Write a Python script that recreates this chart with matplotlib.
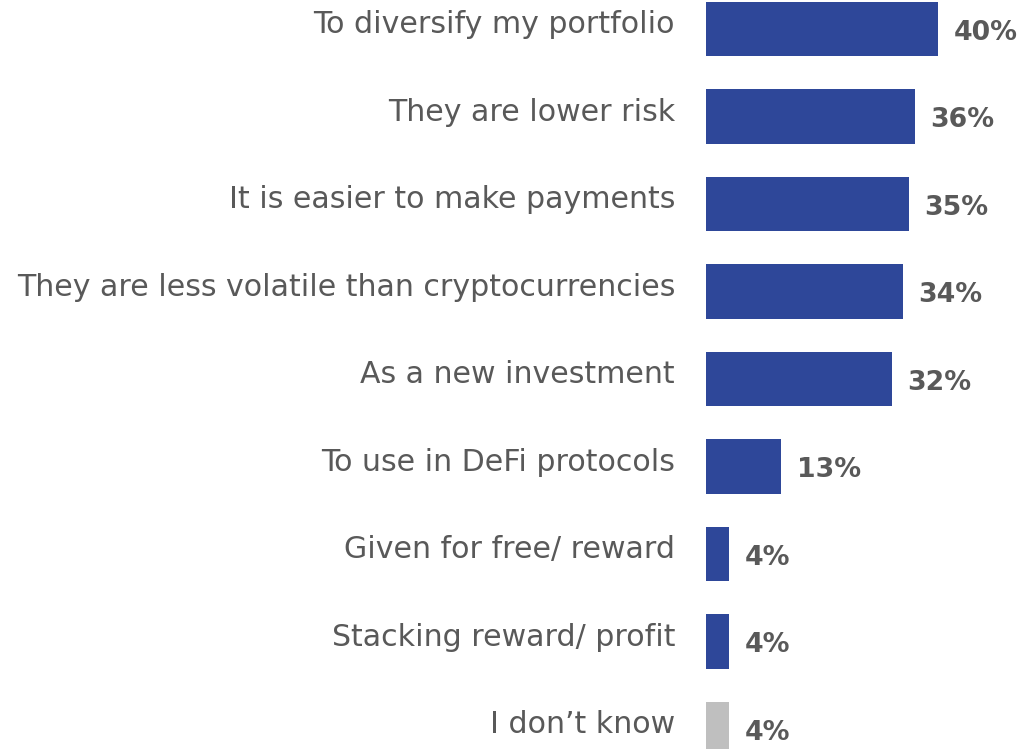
import matplotlib
matplotlib.use("Agg")
import matplotlib.pyplot as plt

categories = [
    "To diversify my portfolio",
    "They are lower risk",
    "It is easier to make payments",
    "They are less volatile than cryptocurrencies",
    "As a new investment",
    "To use in DeFi protocols",
    "Given for free/ reward",
    "Stacking reward/ profit",
    "I don\u2019t know",
]
values = [40, 36, 35, 34, 32, 13, 4, 4, 4]
value_labels = ["40%", "36%", "35%", "34%", "32%", "13%", "4%", "4%", "4%"]
colors = ["#2E4799"] * 8 + ["#BFBFBF"]

W, H, DPI = 1022, 749, 100
fig = plt.figure(figsize=(W / DPI, H / DPI), dpi=DPI)
ax = fig.add_axes([706 / W, 0, 1 - 706 / W, 1])

idx = list(range(len(categories)))
ax.barh(idx, values, height=0.62, color=colors)
ax.set_xlim(0, (W - 706) / 5.8)
ax.set_ylim(8.229, -0.331)
ax.axis("off")

txt_color = "#595959"
for i, (c, v, vl) in enumerate(zip(categories, values, value_labels)):
    ax.annotate(c, xy=(0, i), xycoords=("data", "data"), xytext=(-22.3, 3),
                textcoords="offset points", ha="right", va="center",
                fontsize=21.6, color=txt_color, family="DejaVu Sans",
                annotation_clip=False)
    ax.annotate(vl, xy=(v, i), xytext=(11, -2.6), textcoords="offset points",
                ha="left", va="center", fontsize=19.3, fontweight="bold",
                color=txt_color, annotation_clip=False)

fig.savefig("out.png", dpi=DPI)
